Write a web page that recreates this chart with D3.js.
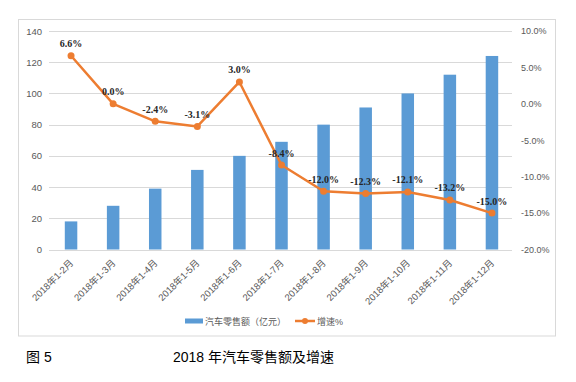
<!DOCTYPE html>
<html><head><meta charset="utf-8">
<script src="https://cdn.jsdelivr.net/npm/d3@7"></script>
<style>body{margin:0;background:#fff}svg{display:block}</style>
</head><body>
<script>
const categories = ["2018年1-2月","2018年1-3月","2018年1-4月","2018年1-5月","2018年1-6月","2018年1-7月","2018年1-8月","2018年1-9月","2018年1-10月","2018年1-11月","2018年1-12月"];
const sales = [18, 28, 39, 51, 60, 69, 80, 91, 100, 112, 124];
const growth = [6.6, 0.0, -2.4, -3.1, 3.0, -8.4, -12.0, -12.3, -12.1, -13.2, -15.0];
const leftTicks = [0, 20, 40, 60, 80, 100, 120, 140];
const rightTicks = [-20, -15, -10, -5, 0, 5, 10];
const legendLabels = ["汽车零售额（亿元）", "增速%"];
const caption = "图 5";
const title = "2018 年汽车零售额及增速";

const W = 576, H = 382;
const svg = d3.select("body").append("svg").attr("width", W).attr("height", H);
const sans = "'Liberation Sans','Noto Sans CJK SC',sans-serif";
const gray = "#595959";
const blue = "#5B9BD5", orange = "#ED7D31";

// chart frame
svg.append("rect").attr("x", 18.5).attr("y", 19.5).attr("width", 537).attr("height", 316.5)
  .attr("fill", "#fff").attr("stroke", "#d9d9d9");

const x = d3.scalePoint().domain(categories).range([50, 513]).padding(0.5);
const yL = d3.scaleLinear().domain([0, 140]).range([249.5, 31]);
const yR = d3.scaleLinear().domain([-20, 10]).range([249.5, 31]);

// gridlines
svg.append("g").selectAll("line").data(leftTicks).join("line")
  .attr("x1", 49).attr("x2", 512)
  .attr("y1", d => Math.round(yL(d)) + 0.5).attr("y2", d => Math.round(yL(d)) + 0.5)
  .attr("stroke", "#d9d9d9").attr("stroke-width", 1);

// left axis
const axL = svg.append("g").attr("transform", "translate(45,0)")
  .call(d3.axisLeft(yL).tickValues(leftTicks).tickSize(0).tickPadding(3));
axL.select(".domain").remove();
axL.selectAll("text").attr("font-family", sans).attr("font-size", 9.5).attr("fill", gray);

// right axis
const axR = svg.append("g").attr("transform", "translate(518,0)")
  .call(d3.axisRight(yR).tickValues(rightTicks).tickSize(0).tickPadding(3).tickFormat(d => d.toFixed(1) + "%"));
axR.select(".domain").remove();
axR.selectAll("text").attr("font-family", sans).attr("font-size", 9).attr("fill", gray);

// bars
const bw = 12.5;
svg.append("g").selectAll("rect").data(categories).join("rect")
  .attr("x", (d) => x(d) - bw / 2)
  .attr("y", (d, i) => yL(sales[i]))
  .attr("width", bw)
  .attr("height", (d, i) => yL(0) - yL(sales[i]))
  .attr("fill", blue);

// x labels
svg.append("g").selectAll("text").data(categories).join("text")
  .attr("transform", d => `translate(${x(d) + 3},${263.5}) rotate(-45)`)
  .attr("text-anchor", "end")
  .attr("font-family", sans).attr("font-size", 9.5).attr("fill", gray)
  .text(d => d);

// line
const line = d3.line().x((d, i) => x(categories[i])).y(d => yR(d));
svg.append("path").datum(growth).attr("d", line)
  .attr("fill", "none").attr("stroke", orange).attr("stroke-width", 2.5).attr("stroke-linejoin", "round");
svg.append("g").selectAll("circle").data(growth).join("circle")
  .attr("cx", (d, i) => x(categories[i])).attr("cy", d => yR(d)).attr("r", 3.5)
  .attr("fill", orange);

// data labels
svg.append("g").selectAll("text").data(growth).join("text")
  .attr("x", (d, i) => x(categories[i])).attr("y", d => yR(d) - 8.5)
  .attr("text-anchor", "middle")
  .attr("font-family", "'Liberation Serif','Times New Roman',serif").attr("font-weight", "bold")
  .attr("font-size", 10).attr("fill", "#262626")
  .text(d => d.toFixed(1) + "%");

// legend
const lg = svg.append("g");
lg.append("rect").attr("x", 185).attr("y", 318.5).attr("width", 18).attr("height", 5).attr("fill", blue);
lg.append("text").attr("x", 205).attr("y", 324.5).attr("font-family", sans).attr("font-size", 9).attr("fill", gray).text(legendLabels[0]);
lg.append("line").attr("x1", 295).attr("x2", 315).attr("y1", 321).attr("y2", 321).attr("stroke", orange).attr("stroke-width", 2.5);
lg.append("circle").attr("cx", 305).attr("cy", 321).attr("r", 3).attr("fill", orange);
lg.append("text").attr("x", 317).attr("y", 324.5).attr("font-family", sans).attr("font-size", 9).attr("fill", gray).text(legendLabels[1]);

// captions
svg.append("text").attr("x", 26).attr("y", 362).attr("font-family", sans).attr("font-size", 14).attr("fill", "#000").text(caption);
svg.append("text").attr("x", 173).attr("y", 362).attr("font-family", sans).attr("font-size", 14).attr("fill", "#000").text(title);
</script>
</body></html>
